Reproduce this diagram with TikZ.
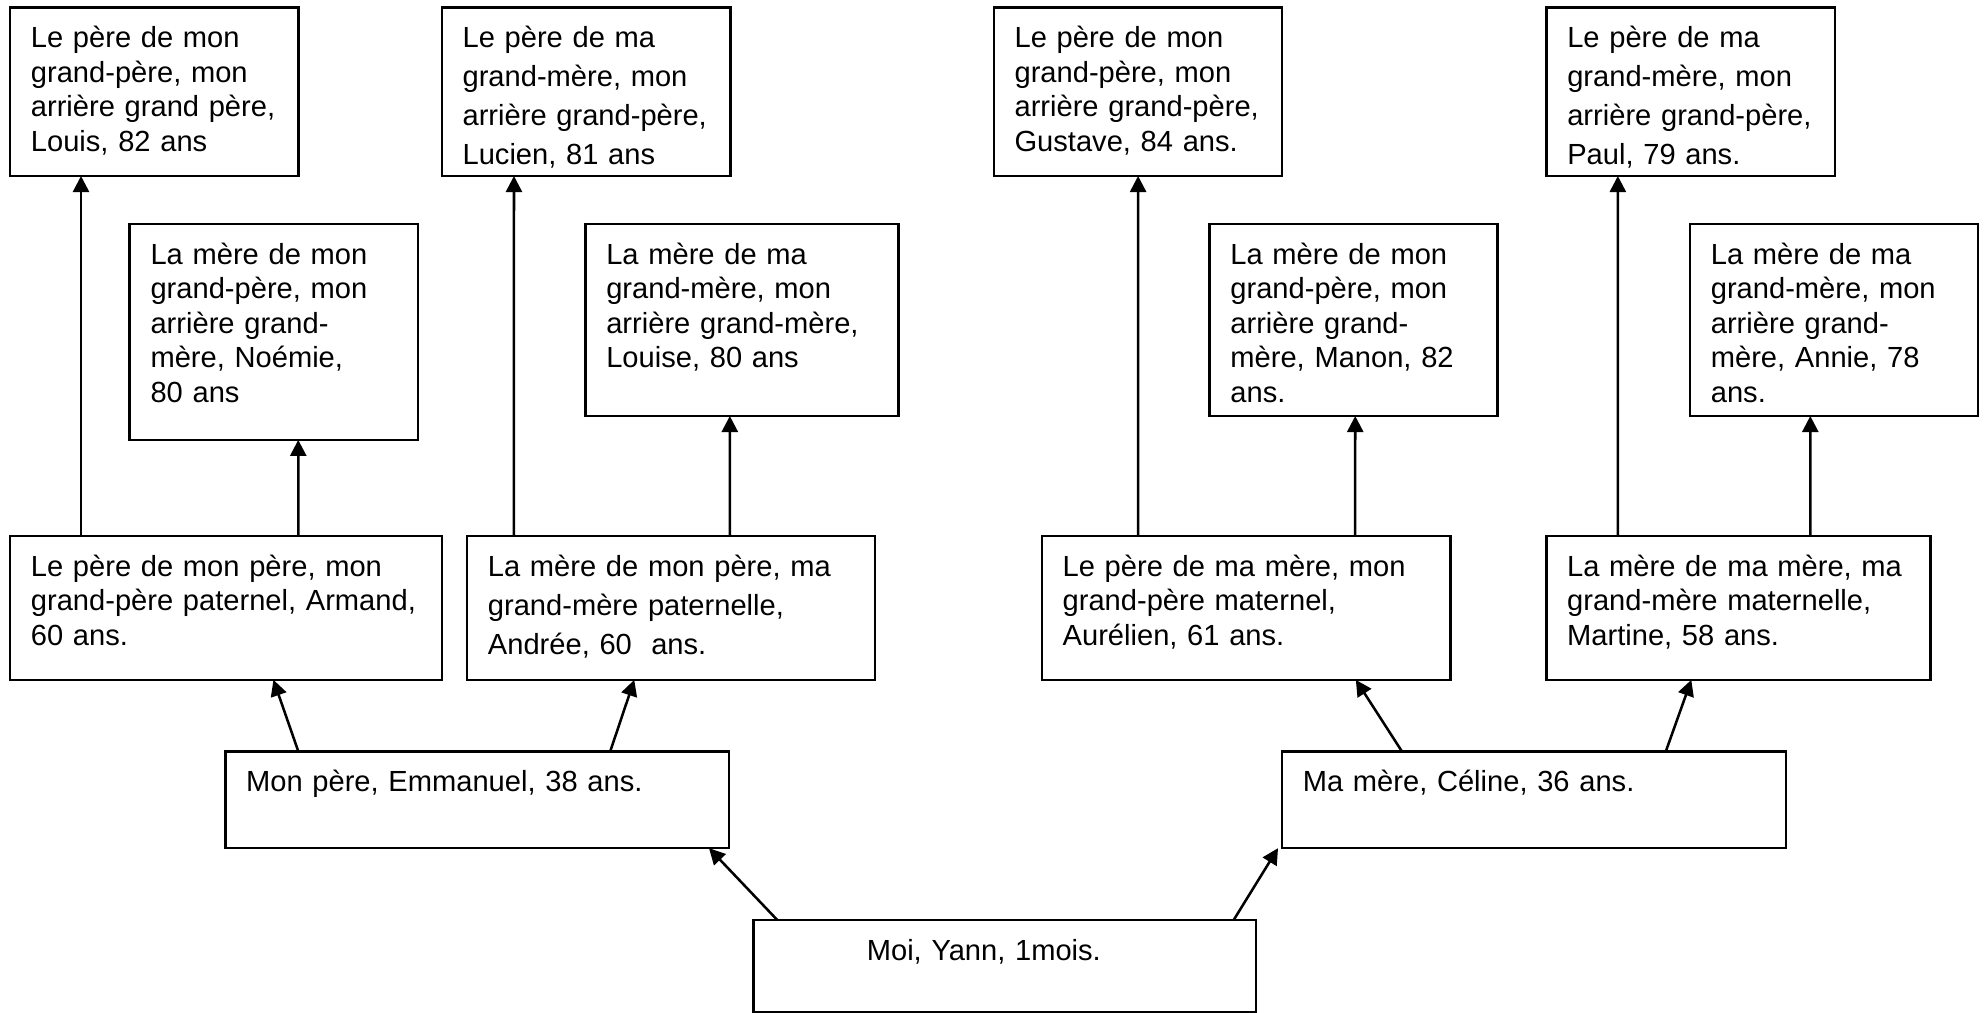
\documentclass[tikz,border=0pt]{standalone}
\usepackage{fontspec}
\setmainfont{Liberation Sans}
\usepackage{tikz}
\usetikzlibrary{arrows.meta}
\newcommand{\txtnorm}{\fontsize{10.35pt}{12.26pt}\selectfont}
\newcommand{\txtwide}{\fontsize{10.35pt}{13.86pt}\selectfont}

\begin{document}
\begin{tikzpicture}[
  x=0.15824mm, y=-0.15824mm,
  pers/.style={draw, line width=0.9pt, anchor=north west, align=left, outer sep=0pt,
               inner xsep=2.6mm, inner ysep=0pt, text height=5.05mm, font=\txtnorm},
  anc/.style={pers, text width=30.85mm, text depth=16mm},
  gmere/.style={pers, text width=30.8mm, text depth=18.94mm},
  gp/.style={pers, text depth=12.93mm},
  par/.style={pers, text width=57.78mm, text depth=7.02mm},
  arr/.style={-{Triangle[length=2mm,width=2mm]}, line width=0.9pt}
]
\useasboundingbox (0,0) rectangle (1568,800);
\node[anc] (pgpp) at (8,6)
  {Le père de mon\\ grand-père, mon\\ arrière grand père,\\ Louis, 82 ans};
\node[gmere, text depth=21.93mm] (mgpp) at (102.5,177)
  {La mère de mon\\ grand-père, mon\\ arrière grand-\\ mère, Noémie,\\ 80 ans};
\node[anc, font=\txtwide] (pgmp) at (349,6)
  {Le père de ma\\ grand-mère, mon\\ arrière grand-père,\\ Lucien, 81 ans};
\node[gmere, text width=33.89mm] (mgmp) at (462.5,177)
  {La mère de ma\\ grand-mère, mon\\ arrière grand-mère,\\ Louise, 80 ans};
\node[anc] (pgpm) at (785,6)
  {Le père de mon\\ grand-père, mon\\ arrière grand-père,\\ Gustave, 84 ans.};
\node[gmere] (mgpm) at (955.5,177)
  {La mère de mon\\ grand-père, mon\\ arrière grand-\\ mère, Manon, 82\\ ans.};
\node[anc, font=\txtwide] (pgmm) at (1221.6,6)
  {Le père de ma\\ grand-mère, mon\\ arrière grand-père,\\ Paul, 79 ans.};
\node[gmere] (mgmm) at (1335,177)
  {La mère de ma\\ grand-mère, mon\\ arrière grand-\\ mère, Annie, 78\\ ans.};
\node[gp, text width=48.76mm] (gpp) at (8,423.4)
  {Le père de mon père, mon\\ grand-père paternel, Armand,\\ 60 ans.};
\node[gp, text width=45.75mm, font=\txtwide] (gmp) at (369,423.4)
  {La mère de mon père, ma\\ grand-mère paternelle,\\ Andrée, 60\ \ ans.};
\node[gp, text width=45.85mm] (gpm) at (823,423.4)
  {Le père de ma mère, mon\\ grand-père maternel,\\ Aurélien, 61 ans.};
\node[gp, text width=42.83mm] (gmm) at (1221.5,423.4)
  {La mère de ma mère, ma\\ grand-mère maternelle,\\ Martine, 58 ans.};
\node[par] (pere) at (178,593.7) {Mon père, Emmanuel, 38 ans.};
\node[par] (mere) at (1012.7,593.7) {Ma mère, Céline, 36 ans.};
\node[par, text width=57.62mm, text depth=6.47mm] (moi) at (595,726.7)
  {\hspace*{11.6mm}Moi, Yann, 1mois.};
\draw[arr] ([xshift=8.86mm]gpp.north west) -- ([xshift=8.86mm]pgpp.south west);
\draw[arr] ([xshift=36.02mm]gpp.north west) -- ([xshift=21.06mm]mgpp.south west);
\draw[arr] ([xshift=5.85mm]gmp.north west) -- ([xshift=9.02mm]pgmp.south west);
\draw[arr] ([xshift=32.83mm]gmp.north west) -- ([xshift=18.04mm]mgmp.south west);
\draw[arr] ([xshift=12.03mm]gpm.north west) -- ([xshift=18.04mm]pgpm.south west);
\draw[arr] ([xshift=39.16mm]gpm.north west) -- ([xshift=18.2mm]mgpm.south west);
\draw[arr] ([xshift=8.94mm]gmm.north west) -- ([xshift=8.92mm]pgmm.south west);
\draw[arr] ([xshift=32.99mm]gmm.north west) -- ([xshift=15.03mm]mgmm.south west);
\draw[arr] ([xshift=9.13mm]pere.north west) -- ([xshift=32.91mm]gpp.south west);
\draw[arr] ([xshift=48.1mm]pere.north west) -- ([xshift=20.89mm]gmp.south west);
\draw[arr] ([xshift=15mm]mere.north west) -- ([xshift=39.24mm]gpm.south west);
\draw[arr] ([xshift=47.96mm]mere.north west) -- ([xshift=18.12mm]gmm.south west);
\draw[arr] ([xshift=3mm]moi.north west) -- ([xshift=60.45mm]pere.south west);
\draw[arr] ([xshift=60.05mm]moi.north west) -- ([xshift=-0.5mm]mere.south west);
\end{tikzpicture}
\end{document}
